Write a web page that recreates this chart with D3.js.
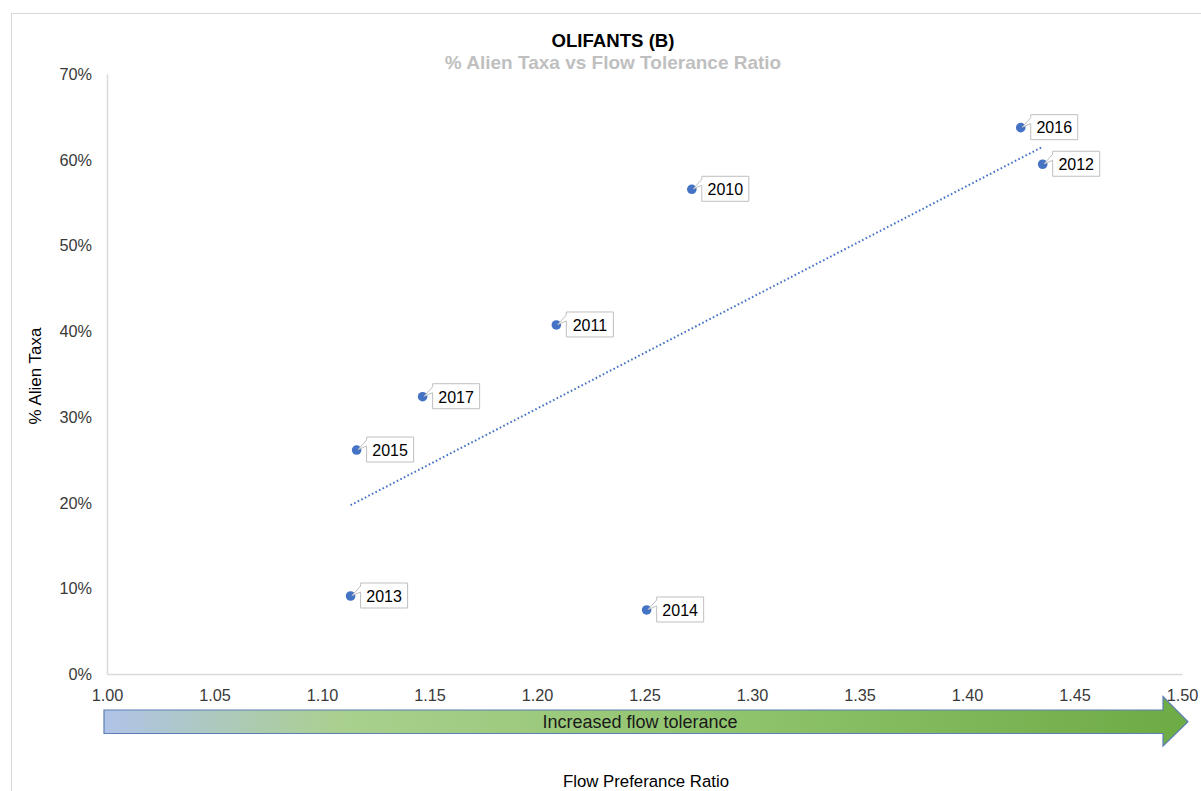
<!DOCTYPE html>
<html>
<head>
<meta charset="utf-8">
<script src="https://cdn.jsdelivr.net/npm/d3@7/dist/d3.min.js"></script>
<style>
  html, body { margin: 0; padding: 0; background: #fff; }
  svg { display: block; font-family: "Liberation Sans", Arial, sans-serif; }
</style>
</head>
<body>
<svg id="chart" width="1201" height="791"></svg>
<script>
// Survey years and their flow preference ratio / % alien taxa
const years = ["2016", "2012", "2010", "2011", "2017", "2015", "2013", "2014"];
const flowRatio = [1.425, 1.4352, 1.272, 1.209, 1.1468, 1.1161, 1.1133, 1.251];
const alienPct = [63.74, 59.47, 56.55, 40.72, 32.35, 26.13, 9.1, 7.47];

const xTicks = [1.00, 1.05, 1.10, 1.15, 1.20, 1.25, 1.30, 1.35, 1.40, 1.45, 1.50];
const yTicks = [0, 10, 20, 30, 40, 50, 60, 70];

const svg = d3.select("#chart");

// outer chart frame
svg.append("rect")
  .attr("x", 11.5).attr("y", 13.5)
  .attr("width", 1200).attr("height", 800)
  .attr("fill", "#fff").attr("stroke", "#d9d9d9").attr("stroke-width", 1);

const plot = { left: 107, right: 1182, top: 74, bottom: 674 };

const x = d3.scaleLinear().domain([1.0, 1.5]).range([plot.left, plot.right]);
const y = d3.scaleLinear().domain([0, 70]).range([plot.bottom, plot.top]);

// axes
const xAxis = svg.append("g")
  .attr("transform", `translate(0,${plot.bottom})`)
  .call(d3.axisBottom(x).tickValues(xTicks).tickFormat(d3.format(".2f")).tickSize(0).tickPadding(15));
const yAxis = svg.append("g")
  .attr("transform", `translate(${plot.left},0)`)
  .call(d3.axisLeft(y).tickValues(yTicks).tickFormat(d => d + "%").tickSize(0).tickPadding(15));

[xAxis, yAxis].forEach(g => {
  g.attr("font-size", 16.3).attr("font-family", "Liberation Sans, Arial, sans-serif");
  g.select(".domain").attr("stroke", "#d9d9d9").attr("stroke-width", 1.5);
  g.selectAll("text").attr("fill", "#3a3a3a");
});
yAxis.selectAll("text").attr("dy", "0.34em");

// titles
svg.append("text").attr("x", 613).attr("y", 47)
  .attr("text-anchor", "middle").attr("font-weight", "bold")
  .attr("font-size", 18.6).attr("fill", "#000").text("OLIFANTS (B)");
svg.append("text").attr("x", 613).attr("y", 69)
  .attr("text-anchor", "middle").attr("font-weight", "bold")
  .attr("font-size", 19).attr("fill", "#bfbfbf").text("% Alien Taxa vs Flow Tolerance Ratio");

// axis titles
svg.append("text")
  .attr("transform", `translate(41,${(plot.top + plot.bottom) / 2 + 2}) rotate(-90)`)
  .attr("text-anchor", "middle").attr("font-size", 17).attr("fill", "#000")
  .text("% Alien Taxa");
svg.append("text").attr("x", 646).attr("y", 787)
  .attr("text-anchor", "middle").attr("font-size", 16.8).attr("fill", "#000")
  .text("Flow Preferance Ratio");

// gradient arrow below the x axis
const defs = svg.append("defs");
const grad = defs.append("linearGradient").attr("id", "arrowGrad")
  .attr("x1", "0%").attr("x2", "100%").attr("y1", "0%").attr("y2", "0%");
grad.append("stop").attr("offset", "0%").attr("stop-color", "#b0c3e8");
grad.append("stop").attr("offset", "22%").attr("stop-color", "#a9d08e");
grad.append("stop").attr("offset", "55%").attr("stop-color", "#92c570");
grad.append("stop").attr("offset", "100%").attr("stop-color", "#6dab44");

const aTop = 710, aBot = 733.5, hTop = 696.5, hBot = 746, aLeft = 104, aNeck = 1163, aTip = 1188;
svg.append("path")
  .attr("d", `M${aLeft},${aTop} L${aNeck},${aTop} L${aNeck},${hTop} L${aTip},${(aTop + aBot) / 2} L${aNeck},${hBot} L${aNeck},${aBot} L${aLeft},${aBot} Z`)
  .attr("fill", "url(#arrowGrad)").attr("stroke", "#5d7fb5").attr("stroke-width", 1.2);
svg.append("text").attr("x", 640).attr("y", 728)
  .attr("text-anchor", "middle").attr("font-size", 18).attr("fill", "#1a1a1a")
  .text("Increased flow tolerance");

// linear trendline over the observed range
const pts = years.map((yr, i) => ({ year: yr, fx: flowRatio[i], py: alienPct[i] }));
const mx = d3.mean(pts, d => d.fx), my = d3.mean(pts, d => d.py);
const slope = d3.sum(pts, d => (d.fx - mx) * (d.py - my)) / d3.sum(pts, d => (d.fx - mx) ** 2);
const intercept = my - slope * mx;
const [fMin, fMax] = d3.extent(flowRatio);
svg.append("line")
  .attr("x1", x(fMin)).attr("y1", y(intercept + slope * fMin))
  .attr("x2", x(fMax)).attr("y2", y(intercept + slope * fMax))
  .attr("stroke", "#4472c4").attr("stroke-width", 2)
  .attr("stroke-dasharray", "1.6 2.4");

// points
svg.append("g").selectAll("circle").data(pts).join("circle")
  .attr("cx", d => x(d.fx)).attr("cy", d => y(d.py))
  .attr("r", 4.8).attr("fill", "#4472c4");

// callout labels
const bw = 47, bh = 25;
const labels = svg.append("g").selectAll("g").data(pts).join("g")
  .attr("transform", d => `translate(${x(d.fx)},${y(d.py)})`);
labels.append("path")
  .attr("d", () => {
    const l = 10, t = -13, r = l + bw, b = t + bh;
    return `M${l},${t} L${r},${t} L${r},${b} L${l},${b} L${l},${t + 9} L1.5,-0.5 L${l},${t + 3} Z`;
  })
  .attr("fill", "#fff").attr("stroke", "#bfbfbf").attr("stroke-width", 1);
labels.append("text")
  .attr("x", 10 + bw / 2).attr("y", 5.8)
  .attr("text-anchor", "middle").attr("font-size", 16).attr("fill", "#000")
  .text(d => d.year);
</script>
</body>
</html>
